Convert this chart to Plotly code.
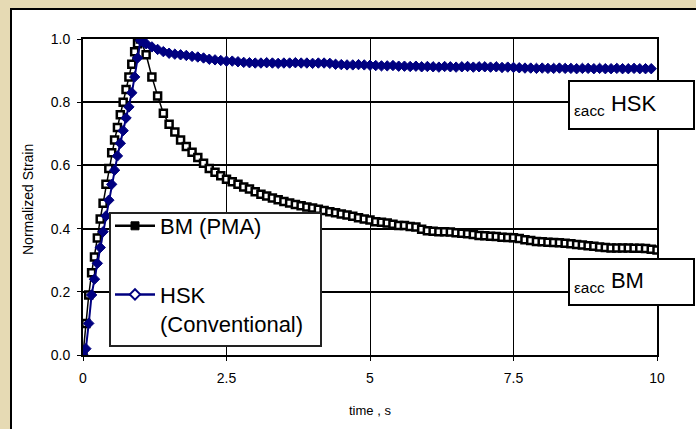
import plotly.graph_objects as go

# ---------------- data ----------------
bm_time = [0.0, 0.05, 0.1, 0.15, 0.2, 0.25, 0.3, 0.35, 0.4, 0.45, 0.5, 0.55, 0.6, 0.65, 0.7,
           0.75, 0.8, 0.85, 0.9, 0.95, 1.0,
           1.1, 1.2, 1.3, 1.4, 1.5, 1.6, 1.7, 1.8, 1.9, 2.0, 2.1, 2.2, 2.3, 2.4, 2.5, 2.6, 2.7,
           2.8, 2.9, 3.0, 3.1, 3.2, 3.3, 3.4, 3.5, 3.6, 3.7, 3.8, 3.9, 4.0, 4.1, 4.2, 4.3, 4.4,
           4.5, 4.6, 4.7, 4.8, 4.9, 5.0, 5.1, 5.2, 5.3, 5.4, 5.5, 5.6, 5.7, 5.8, 5.9, 6.0, 6.1,
           6.2, 6.3, 6.4, 6.5, 6.6, 6.7, 6.8, 6.9, 7.0, 7.1, 7.2, 7.3, 7.4, 7.5, 7.6, 7.7, 7.8,
           7.9, 8.0, 8.1, 8.2, 8.3, 8.4, 8.5, 8.6, 8.7, 8.8, 8.9, 9.0, 9.1, 9.2, 9.3, 9.4, 9.5,
           9.6, 9.7, 9.8, 9.9, 10.0]
bm_strain = [0.0, 0.10, 0.19, 0.26, 0.31, 0.37, 0.43, 0.48, 0.54, 0.59, 0.64, 0.68, 0.72, 0.76, 0.80,
             0.84, 0.88, 0.92, 0.96, 0.985, 1.0,
             0.95, 0.88, 0.82, 0.765, 0.73, 0.706, 0.68, 0.66, 0.642, 0.625, 0.607, 0.59, 0.578,
             0.567, 0.556, 0.548, 0.54, 0.532, 0.525, 0.517, 0.509, 0.503, 0.497, 0.491, 0.486,
             0.481, 0.476, 0.472, 0.468, 0.465, 0.461, 0.457, 0.453, 0.45, 0.446, 0.443, 0.439,
             0.434, 0.43, 0.427, 0.422, 0.42, 0.418, 0.414, 0.41, 0.41, 0.407, 0.405, 0.398,
             0.393, 0.392, 0.39, 0.39, 0.389, 0.387, 0.385, 0.384, 0.381, 0.378, 0.377, 0.376,
             0.375, 0.373, 0.372, 0.371, 0.369, 0.365, 0.362, 0.359, 0.358, 0.357, 0.356, 0.355,
             0.354, 0.352, 0.35, 0.348, 0.346, 0.344, 0.342, 0.34, 0.339, 0.339, 0.339, 0.339,
             0.338, 0.338, 0.337, 0.335, 0.332]

hsk_time = [0.0, 0.05, 0.1, 0.15, 0.2, 0.25, 0.3, 0.35, 0.4, 0.45, 0.5, 0.55, 0.6, 0.65, 0.7,
            0.75, 0.8, 0.85, 0.9, 0.95, 1.0, 1.05,
            1.1, 1.2, 1.3, 1.4, 1.5, 1.6, 1.7, 1.8, 1.9, 2.0, 2.1, 2.2, 2.3, 2.4, 2.5, 2.6, 2.7,
            2.8, 2.9, 3.0, 3.1, 3.2, 3.3, 3.4, 3.5, 3.6, 3.7, 3.8, 3.9, 4.0, 4.1, 4.2, 4.3, 4.4,
            4.5, 4.6, 4.7, 4.8, 4.9, 5.0, 5.1, 5.2, 5.3, 5.4, 5.5, 5.6, 5.7, 5.8, 5.9, 6.0, 6.1,
            6.2, 6.3, 6.4, 6.5, 6.6, 6.7, 6.8, 6.9, 7.0, 7.1, 7.2, 7.3, 7.4, 7.5, 7.6, 7.7, 7.8,
            7.9, 8.0, 8.1, 8.2, 8.3, 8.4, 8.5, 8.6, 8.7, 8.8, 8.9, 9.0, 9.1, 9.2, 9.3, 9.4, 9.5,
            9.6, 9.7, 9.8, 9.9, 10.0]
hsk_strain = [0.0, 0.02, 0.10, 0.19, 0.24, 0.29, 0.34, 0.39, 0.44, 0.49, 0.54, 0.585, 0.63, 0.67,
              0.71, 0.75, 0.785, 0.83, 0.88, 0.94, 0.995, 0.99,
              0.985, 0.975, 0.967, 0.96, 0.955, 0.952, 0.95, 0.948, 0.945, 0.943, 0.94, 0.936,
              0.934, 0.932, 0.93, 0.93, 0.928, 0.926, 0.925, 0.924, 0.924, 0.925, 0.924, 0.923,
              0.924, 0.924, 0.925, 0.924, 0.924, 0.923, 0.924, 0.924, 0.923, 0.92, 0.919, 0.918,
              0.918, 0.919, 0.918, 0.917, 0.916, 0.915, 0.915, 0.916, 0.914, 0.914, 0.913, 0.914,
              0.912, 0.913, 0.912, 0.911, 0.913, 0.912, 0.911, 0.912, 0.913, 0.911, 0.912, 0.912,
              0.911, 0.912, 0.91, 0.911, 0.91, 0.909, 0.908, 0.908, 0.907, 0.908, 0.907, 0.907,
              0.908, 0.907, 0.907, 0.906, 0.907, 0.907, 0.906, 0.907, 0.906, 0.906, 0.907,
              0.906, 0.906, 0.907, 0.906, 0.906, 0.906]

x_tickvals = [0, 2.5, 5, 7.5, 10]
x_ticktext = ["0", "2.5", "5", "7.5", "10"]
y_tickvals = [0.0, 0.2, 0.4, 0.6, 0.8, 1.0]
y_ticktext = ["0.0", "0.2", "0.4", "0.6", "0.8", "1.0"]

series_names = ["BM (PMA)", "HSK<br>(Conventional)"]
label_hsk = "<sub>\u03b5acc</sub> HSK"
label_bm = "<sub>\u03b5acc</sub> BM"

# ---------------- figure ----------------
FONT = "Liberation Sans, Arial, sans-serif"
W, H = 696, 429
L, R, T, B = 83, 39, 39, 74
pw, ph = W - L - R, H - T - B

def px_x(p):
    return (p - L) / pw

def px_y(p):
    return (H - B - p) / ph

fig = go.Figure()

fig.add_trace(go.Scatter(
    x=bm_time, y=bm_strain, mode="lines+markers", showlegend=False,
    line=dict(color="black", width=1.5),
    marker=dict(symbol="square", size=7, color="white", line=dict(color="black", width=2.5)),
))
fig.add_trace(go.Scatter(
    x=hsk_time, y=hsk_strain, mode="lines+markers", showlegend=False,
    line=dict(color="#000080", width=2),
    marker=dict(symbol="diamond", size=8, color="#000080", line=dict(color="#000080", width=1)),
))
# legend entries
fig.add_trace(go.Scatter(
    x=[None], y=[None], mode="lines+markers", name=series_names[0], legendgroup="a",
    line=dict(color="black", width=2.5),
    marker=dict(symbol="square", size=8, color="black", line=dict(color="black", width=1)),
))
fig.add_trace(go.Scatter(
    x=[None], y=[None], mode="lines+markers", name=series_names[1], legendgroup="b",
    line=dict(color="#000080", width=2.5),
    marker=dict(symbol="diamond", size=8, color="white", line=dict(color="#000080", width=2)),
))

fig.update_layout(
    width=W, height=H,
    margin=dict(l=L, r=R, t=T, b=B, pad=0),
    paper_bgcolor="#E6DAB4",
    plot_bgcolor="white",
    font=dict(family=FONT, color="black", size=14),
    showlegend=True,
    legend=dict(
        x=px_x(110), y=px_y(205), xanchor="left", yanchor="top",
        bgcolor="rgba(0,0,0,0)", borderwidth=0,
        font=dict(size=22, family=FONT, color="black"),
        traceorder="grouped", tracegroupgap=37, valign="top", itemwidth=40,
    ),
    xaxis=dict(
        range=[0, 10], tickvals=x_tickvals, ticktext=x_ticktext,
        showgrid=True, gridcolor="black", gridwidth=1,
        showline=True, linecolor="black", linewidth=2, mirror=True,
        ticks="outside", ticklen=4, tickcolor="black", tickwidth=1,
        zeroline=False, tickfont=dict(size=14), ticklabelstandoff=5,
    ),
    yaxis=dict(
        range=[0, 1.0], tickvals=y_tickvals, ticktext=y_ticktext,
        showgrid=True, gridcolor="black", gridwidth=2,
        showline=True, linecolor="black", linewidth=2, mirror=True,
        ticks="outside", ticklen=4, tickcolor="black", tickwidth=1,
        zeroline=False, tickfont=dict(size=14), ticklabelstandoff=4,
    ),
    shapes=[
        dict(type="rect", xref="paper", yref="paper", layer="below",
             x0=px_x(11), x1=px_x(705), y0=px_y(440), y1=px_y(9),
             fillcolor="white", line=dict(color="black", width=2)),
        dict(type="rect", xref="paper", yref="paper", layer="above",
             x0=px_x(110), x1=px_x(321), y0=px_y(346), y1=px_y(213),
             fillcolor="white", line=dict(color="#222222", width=2)),
    ],
    annotations=[
        dict(text="time , s", xref="paper", yref="paper", x=0.5, y=px_y(410),
             xanchor="center", yanchor="middle", showarrow=False, font=dict(size=13)),
        dict(text="Normalized Strain", xref="paper", yref="paper", x=px_x(28), y=px_y(200),
             xanchor="center", yanchor="middle", textangle=-90, showarrow=False,
             font=dict(size=14)),
        dict(text=label_hsk, xref="paper", yref="paper", x=px_x(631.5), y=px_y(105),
             xanchor="center", yanchor="middle", showarrow=False, align="left",
             width=115, height=38, valign="middle",
             bgcolor="white", bordercolor="black", borderwidth=2, borderpad=4,
             font=dict(size=22)),
        dict(text=label_bm, xref="paper", yref="paper", x=px_x(631.5), y=px_y(282),
             xanchor="center", yanchor="middle", showarrow=False, align="left",
             width=115, height=36, valign="middle",
             bgcolor="white", bordercolor="black", borderwidth=2, borderpad=4,
             font=dict(size=22)),
    ],
)

fig.write_html("out.html")
